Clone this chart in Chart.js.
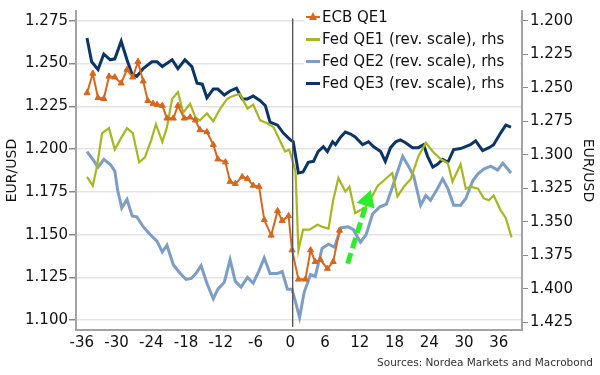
<!DOCTYPE html>
<html>
<head>
<meta charset="utf-8">
<script src="https://cdn.jsdelivr.net/npm/chart.js@4.4.1/dist/chart.umd.min.js"></script>
<style>
  body { margin: 0; background: #fff; }
  #wrap { position: relative; width: 600px; height: 375px; font-family: Verdana, "DejaVu Sans", sans-serif; }
  #legend { position: absolute; left: 304px; top: 6px; width: 216px; height: 90px;
            background: linear-gradient(to bottom, transparent 8px, #fff 8px); font-size: 15px; color: #111; }
  .row { height: 22px; line-height: 22px; display: flex; align-items: center; white-space: nowrap; }
  .mark { width: 14px; height: 3px; margin-right: 2px; margin-left: 2px; }
  #source { position: absolute; right: 7px; top: 356px; font-size: 10.5px; color: #333; }
</style>
</head>
<body>
<div id="wrap">
  <canvas id="chartQe" width="600" height="375"></canvas>
  <div id="legend"></div>
  <div id="source">Sources: Nordea Markets and Macrobond</div>
</div>
<script>
// weeks around start of QE, EUR/USD
const weekTicks = [-36, -30, -24, -18, -12, -6, 0, 6, 12, 18, 24, 30, 36];
const lhsTicks = [1.100, 1.125, 1.150, 1.175, 1.200, 1.225, 1.250, 1.275];
const rhsTicks = [1.200, 1.225, 1.250, 1.275, 1.300, 1.325, 1.350, 1.375, 1.400, 1.425];

const ecbWeeks = [-35.1,-34.1,-33.2,-32.2,-31.3,-30.3,-29.2,-28.2,-27.2,-26.3,-25.4,-24.6,-23.7,-23.0,-22.1,-21.3,-20.2,-19.4,-18.3,-17.3,-16.4,-15.6,-14.4,-13.3,-12.5,-11.2,-10.4,-9.5,-8.3,-7.4,-6.4,-5.4,-4.5,-3.3,-2.2,-1.4,-0.3,0.3,1.4,2.6,3.5,4.3,5.2,6.4,7.4,8.5];
const ecbQe1 = [1.2328,1.2442,1.2300,1.2294,1.2425,1.2420,1.2385,1.2465,1.2420,1.2511,1.2397,1.2283,1.2266,1.2260,1.2254,1.2180,1.2180,1.2254,1.2180,1.2186,1.2169,1.2112,1.2100,1.2026,1.1941,1.1924,1.1810,1.1798,1.1838,1.1827,1.1787,1.1781,1.1587,1.1496,1.1639,1.1582,1.1610,1.1410,1.1239,1.1239,1.1410,1.1342,1.1353,1.1302,1.1342,1.1525];

const qe1Weeks = [-35.1,-34.1,-33.4,-32.5,-31.3,-30.3,-29.2,-28.2,-27.2,-26.1,-25.1,-24.0,-23.2,-22.1,-21.3,-20.4,-19.4,-18.5,-17.3,-16.4,-15.6,-14.4,-13.3,-12.1,-10.9,-9.9,-8.7,-7.4,-6.4,-5.2,-4.0,-2.9,-1.7,-0.9,-0.2,0.9,1.4,2.2,3.3,4.7,5.5,6.6,7.4,8.3,9.5,10.2,11.2,13.0,14.2,15.1,16.1,17.6,18.5,19.6,20.8,22.1,23.4,24.6,26.0,27.2,28.0,29.4,30.3,31.1,32.4,33.4,34.3,35.1,36.3,37.2,38.2];
const fedQe1 = [1.3165,1.3231,1.3092,1.2838,1.2801,1.2961,1.2874,1.2801,1.2838,1.3056,1.3020,1.2889,1.2772,1.2903,1.2794,1.2583,1.2532,1.2685,1.2619,1.2721,1.2743,1.2692,1.2750,1.2655,1.2583,1.2561,1.2546,1.2655,1.2626,1.2743,1.2765,1.2794,1.2903,1.2976,1.2961,1.3122,1.3712,1.3559,1.3559,1.3522,1.3537,1.3551,1.3340,1.3173,1.3275,1.3238,1.3435,1.3391,1.3304,1.3231,1.3194,1.3136,1.3311,1.3238,1.3180,1.3012,1.2910,1.2976,1.3034,1.3063,1.3202,1.3071,1.3253,1.3238,1.3253,1.3326,1.3340,1.3304,1.3413,1.3471,1.3617];

const qe2Weeks = [-35.1,-34.1,-33.2,-32.2,-31.1,-30.3,-29.8,-29.1,-28.2,-27.3,-26.5,-25.4,-24.2,-23.0,-22.1,-21.3,-20.2,-19.0,-18.0,-17.1,-16.3,-15.4,-14.4,-13.3,-12.5,-11.4,-10.4,-9.5,-8.5,-7.4,-6.4,-5.4,-4.5,-3.5,-2.2,-1.4,-0.5,0.3,1.6,2.4,3.5,4.3,5.5,6.6,7.6,8.8,10.0,10.9,12.1,13.1,14.2,15.4,16.6,17.6,19.4,20.4,21.3,22.5,23.4,24.2,25.4,26.3,27.2,28.2,29.4,30.3,31.5,32.4,33.4,34.6,35.8,36.7,38.1];
const fedQe2 = [1.2976,1.3034,1.3092,1.3034,1.3071,1.3122,1.3267,1.3398,1.3333,1.3457,1.3464,1.3537,1.3595,1.3646,1.3726,1.3675,1.3821,1.3886,1.3930,1.3923,1.3886,1.3828,1.3959,1.4075,1.4003,1.3952,1.3784,1.3945,1.3988,1.3915,1.3959,1.3865,1.3770,1.3886,1.3886,1.3872,1.4003,1.4003,1.4214,1.4025,1.3894,1.3908,1.3697,1.3668,1.3690,1.3544,1.3537,1.3559,1.3653,1.3595,1.3442,1.3391,1.3369,1.3245,1.3012,1.3085,1.3158,1.3377,1.3304,1.3340,1.3253,1.3180,1.3253,1.3377,1.3377,1.3326,1.3194,1.3143,1.3107,1.3085,1.3114,1.3063,1.3136];

const qe3Weeks = [-35.1,-34.3,-33.2,-32.2,-31.1,-30.3,-29.2,-28.2,-27.3,-26.5,-25.4,-23.9,-23.0,-22.1,-20.4,-19.4,-18.2,-17.0,-16.1,-15.2,-14.4,-13.3,-12.5,-11.4,-10.4,-9.3,-8.3,-7.4,-6.4,-5.2,-4.3,-3.5,-2.2,-1.2,0,0.5,1.4,2.2,3.1,4.0,4.8,5.7,6.4,7.3,7.8,8.7,9.5,10.4,11.2,12.5,13.5,14.4,15.6,16.4,17.3,18.2,19.0,19.9,21.1,22.1,23.0,23.7,24.6,25.4,26.3,27.2,28.2,29.4,31.1,32.0,33.2,34.3,35.1,36.3,37.2,38.1];
const fedQe3 = [1.2129,1.2306,1.2364,1.2248,1.2291,1.2284,1.2153,1.2291,1.2401,1.2415,1.2357,1.2306,1.2306,1.2342,1.2291,1.2357,1.2291,1.2342,1.2466,1.2473,1.2575,1.2510,1.2510,1.2554,1.2524,1.2503,1.2583,1.2583,1.2561,1.2597,1.2634,1.2757,1.2779,1.2838,1.2889,1.2903,1.3136,1.3129,1.3056,1.3049,1.2976,1.2940,1.2976,1.2903,1.2925,1.2867,1.2830,1.2845,1.2867,1.2925,1.2903,1.2940,1.2976,1.3049,1.2947,1.2903,1.2889,1.2910,1.2947,1.2947,1.2925,1.3012,1.3092,1.3071,1.3034,1.3056,1.2961,1.2954,1.2925,1.2896,1.2969,1.2947,1.2925,1.2838,1.2779,1.2794];

// start line and the green arrow (lhs scale)
const startWeek = [0.4, 0.4];
const startLine = [1.2762, 1.0962];
const arrowWeeks = [9.9, 13.3];
const arrowLevels = [1.1331, 1.1700];

const orange = "#d8661c", lime = "#a5b81f", steel = "#7c9ec6", navy = "#0c3567", arrowGreen = "#2ced2c";

const pts = (xs, ys) => xs.map((x, i) => ({ x: x, y: ys[i] }));

Chart.defaults.font.family = 'Verdana, "DejaVu Sans", sans-serif';
Chart.defaults.color = "#111";

const series = [
    { label: "ECB QE1", data: pts(ecbWeeks, ecbQe1), yAxisID: "y", borderColor: orange, backgroundColor: orange,
      borderWidth: 2, pointStyle: "triangle", pointRadius: 3.5, pointBorderWidth: 1, pointBackgroundColor: orange },
    { label: "Fed QE1 (rev. scale), rhs", data: pts(qe1Weeks, fedQe1), yAxisID: "y2", borderColor: lime, borderWidth: 2.2, pointRadius: 0 },
    { label: "Fed QE2 (rev. scale), rhs", data: pts(qe2Weeks, fedQe2), yAxisID: "y2", borderColor: steel, borderWidth: 3, pointRadius: 0 },
    { label: "Fed QE3 (rev. scale), rhs", data: pts(qe3Weeks, fedQe3), yAxisID: "y2", borderColor: navy, borderWidth: 3, pointRadius: 0 }
];

const chart = new Chart(document.getElementById("chartQe"), {
    type: "line",
    data: {
        datasets: [
            { data: pts(arrowWeeks, arrowLevels), yAxisID: "y", borderColor: arrowGreen, backgroundColor: arrowGreen,
              borderWidth: 5, borderDash: [11, 5], pointRadius: [0, 11], pointStyle: "triangle", pointRotation: 18,
              pointBorderWidth: 0, pointBackgroundColor: arrowGreen, order: -2 },
            { data: pts(startWeek, startLine), yAxisID: "y", borderColor: "#555", borderWidth: 1, pointRadius: 0, order: -1 },
            ...series
        ]
    },
    options: {
        responsive: false,
        animation: false,
        layout: { padding: { top: 3, left: 0, right: 0, bottom: 0 } },
        plugins: { legend: { display: false }, tooltip: { enabled: false } },
        scales: {
            x: {
                type: "linear", min: -37, max: 40,
                afterBuildTicks: (axis) => { axis.ticks = weekTicks.map(v => ({ value: v })); },
                afterFit: (s) => { s.height = 45; },
                grid: { display: false, drawTicks: false },
                border: { color: "#a3a3a3", width: 2 },
                ticks: { padding: 4, font: { size: 15 }, callback: (v) => String(v) }
            },
            y: {
                position: "left", min: 1.0943, max: 1.2807,
                afterBuildTicks: (axis) => { axis.ticks = lhsTicks.map(v => ({ value: v })); },
                afterFit: (s) => { s.width = 76; },
                grid: { color: "#e4e4e4", lineWidth: 1.5, tickColor: "#8a8a8a", tickLength: 7 },
                border: { color: "#a3a3a3", width: 2 },
                ticks: { padding: 1, font: { size: 15 }, callback: (v) => v.toFixed(3) },
                title: { display: true, text: "EUR/USD", font: { size: 14 }, padding: 4 }
            },
            y2: {
                position: "right", reverse: true, min: 1.1927, max: 1.4308,
                afterBuildTicks: (axis) => { axis.ticks = rhsTicks.map(v => ({ value: v })); },
                afterFit: (s) => { s.width = 78; },
                grid: { drawOnChartArea: false, tickColor: "#8a8a8a", tickLength: 6 },
                border: { color: "#a3a3a3", width: 2 },
                ticks: { padding: 2, font: { size: 15 }, callback: (v) => v.toFixed(3) },
                title: { display: true, text: "EUR/USD", font: { size: 14 }, padding: 4 }
            }
        }
    }
});

// legend
const legend = document.getElementById("legend");
series.forEach((s, i) => {
    const row = document.createElement("div");
    row.className = "row";
    if (i === 0) {
        row.innerHTML = '<svg width="18" height="16"><line x1="2" y1="8" x2="16" y2="8" stroke="' + orange +
            '" stroke-width="2"/><polygon points="9,3 13,11 5,11" fill="' + orange + '"/></svg>';
    } else {
        row.innerHTML = '<span class="mark" style="background:' + s.borderColor + '"></span>';
    }
    const txt = document.createElement("span");
    txt.textContent = s.label;
    row.appendChild(txt);
    legend.appendChild(row);
});
</script>
</body>
</html>
